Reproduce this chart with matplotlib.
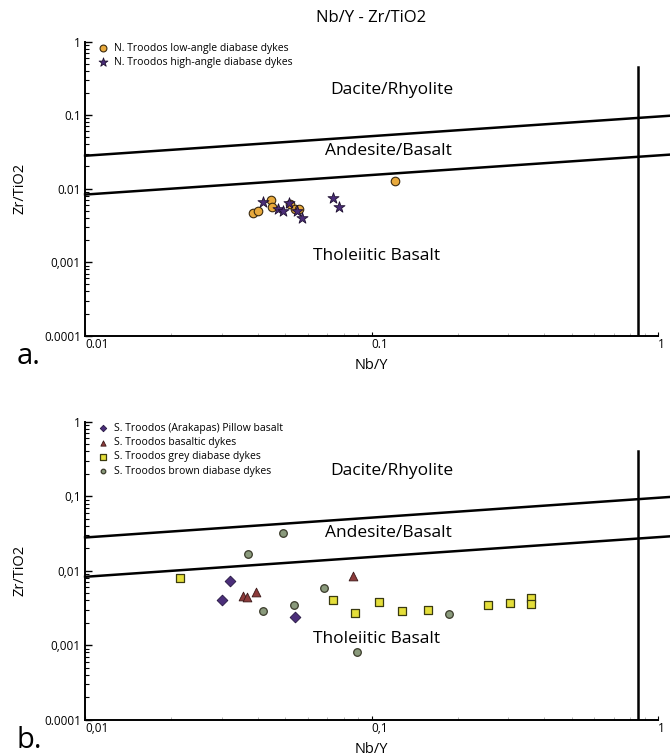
import matplotlib.pyplot as plt
from matplotlib.ticker import FixedLocator, FixedFormatter, LogLocator, NullFormatter

plt.rcParams['font.family'] = ['Open Sans', 'DejaVu Sans']

# field boundaries (Nb/Y, Zr/TiO2)
bound_x = [0.01, 1.1]
upper_y = [0.028, 0.098]
lower_y = [0.0083, 0.029]
vert_x = [0.85, 0.85]

# panel a: northern Troodos
low_x = [0.0385, 0.040, 0.0446, 0.045, 0.052, 0.054, 0.056, 0.121]
low_y = [0.0047, 0.0050, 0.0069, 0.0057, 0.0061, 0.0053, 0.0053, 0.0128]
high_x = [0.0418, 0.047, 0.049, 0.0515, 0.055, 0.057, 0.0735, 0.077]
high_y = [0.0065, 0.0053, 0.0049, 0.0063, 0.0049, 0.0040, 0.0075, 0.0057]

# panel b: southern Troodos
pil_x = [0.0321, 0.0301, 0.054]
pil_y = [0.0073, 0.0040, 0.0024]
bas_x = [0.0862, 0.0395, 0.0356, 0.0367]
bas_y = [0.0086, 0.0052, 0.0046, 0.0045]
grey_x = [0.0215, 0.0735, 0.0875, 0.106, 0.128, 0.157, 0.255, 0.304, 0.36, 0.36]
grey_y = [0.0081, 0.0041, 0.0027, 0.0038, 0.0029, 0.0030, 0.0035, 0.0037, 0.0043, 0.0036]
brown_x = [0.049, 0.037, 0.0683, 0.0537, 0.0418, 0.187, 0.089]
brown_y = [0.0324, 0.0169, 0.0059, 0.0035, 0.0029, 0.00265, 0.0008]

xticks = [0.01, 0.1, 1]
yticks = [0.0001, 0.001, 0.01, 0.1, 1]
xlab_a = ['0.01', '0.1', '1']
ylab_a = ['0.0001', '0,001', '0.01', '0.1', '1']
xlab_b = ['0,01', '0,1', '1']
ylab_b = ['0.0001', '0,001', '0,01', '0,1', '1']


def setup(ax, xlab, ylab, vtop):
    ax.set_xscale('log')
    ax.set_yscale('log')
    ax.set_xlim(0.01, 1)
    ax.set_ylim(0.0001, 1)
    for s in ['top', 'right']:
        ax.spines[s].set_visible(False)
    for s in ['left', 'bottom']:
        ax.spines[s].set_linewidth(1.4)
    ax.xaxis.set_major_locator(FixedLocator(xticks))
    ax.xaxis.set_major_formatter(FixedFormatter(xlab))
    ax.yaxis.set_major_locator(FixedLocator(yticks))
    ax.yaxis.set_major_formatter(FixedFormatter(ylab))
    ax.yaxis.set_minor_locator(LogLocator(base=10, subs=range(2, 10)))
    ax.yaxis.set_minor_formatter(NullFormatter())
    ax.xaxis.set_minor_locator(LogLocator(base=10, subs=range(2, 10)))
    ax.xaxis.set_minor_formatter(NullFormatter())
    ax.tick_params(axis='y', which='major', direction='in', length=5, width=1, labelsize=8.5, pad=3)
    ax.tick_params(axis='y', which='minor', direction='in', length=3, width=0.8)
    ax.tick_params(axis='x', which='major', direction='in', length=3, width=0.8, labelsize=8.5, pad=2)
    ax.tick_params(axis='x', which='minor', direction='in', length=2, width=0.5, color='#999999')
    for lab in ax.get_xticklabels():
        lab.set_horizontalalignment('left')
    ax.plot(bound_x, upper_y, color='black', lw=1.8, clip_on=False)
    ax.plot(bound_x, lower_y, color='black', lw=1.8, clip_on=False)
    ax.plot(vert_x, [0.0001, vtop], color='black', lw=1.8)
    ax.text(0.118, 0.22, 'Dacite/Rhyolite', fontsize=12.5, ha='center', va='center')
    ax.text(0.115, 0.032, 'Andesite/Basalt', fontsize=12.5, ha='center', va='center')
    ax.text(0.104, 0.0012, 'Tholeiitic Basalt', fontsize=12.5, ha='center', va='center')
    ax.set_ylabel('Zr/TiO2', fontsize=10.5, labelpad=12)
    ax.set_xlabel('Nb/Y', fontsize=10.5, labelpad=5)


fig = plt.figure(figsize=(6.7, 7.56), dpi=100)
ax1 = fig.add_axes([0.127, 0.556, 0.855, 0.389])
ax2 = fig.add_axes([0.127, 0.048, 0.855, 0.394])

setup(ax1, xlab_a, ylab_a, 0.45)
ax1.scatter(low_x, low_y, s=38, marker='o', color='#E8A93C', edgecolor='#3a2a10', lw=0.8,
            zorder=3, label='N. Troodos low-angle diabase dykes')
ax1.scatter(high_x, high_y, s=70, marker='*', color='#4A2C78', edgecolor='#1e1030', lw=0.6,
            zorder=4, label='N. Troodos high-angle diabase dykes')
ax1.legend(loc='upper left', bbox_to_anchor=(0.0, 1.02), frameon=False, fontsize=7.5,
           handletextpad=0.1, labelspacing=0.3, markerscale=0.8, borderaxespad=0.3)
ax1.set_title('Nb/Y - Zr/TiO2', fontsize=12, pad=14)
ax1.text(-0.12, -0.07, 'a.', transform=ax1.transAxes, fontsize=21, va='center')

setup(ax2, xlab_b, ylab_b, 0.4)
ax2.scatter(pil_x, pil_y, s=30, marker='D', color='#4B2E7A', edgecolor='#241540', lw=0.6,
            zorder=3, label='S. Troodos (Arakapas) Pillow basalt')
ax2.scatter(bas_x, bas_y, s=40, marker='^', color='#8C3B3B', edgecolor='#3a1818', lw=0.6,
            zorder=3, label='S. Troodos basaltic dykes')
ax2.scatter(grey_x, grey_y, s=40, marker='s', color='#E4DE3A', edgecolor='#3a3a10', lw=0.9,
            zorder=3, label='S. Troodos grey diabase dykes')
ax2.scatter(brown_x, brown_y, s=30, marker='o', color='#8A9A7C', edgecolor='#3a3a2a', lw=0.9,
            zorder=3, label='S. Troodos brown diabase dykes')
ax2.legend(loc='upper left', bbox_to_anchor=(0.0, 1.02), frameon=False, fontsize=7.5,
           handletextpad=0.1, labelspacing=0.3, markerscale=0.6, borderaxespad=0.3)
ax2.text(-0.12, -0.07, 'b.', transform=ax2.transAxes, fontsize=21, va='center')

fig.savefig('out.png', dpi=100, facecolor='white')
